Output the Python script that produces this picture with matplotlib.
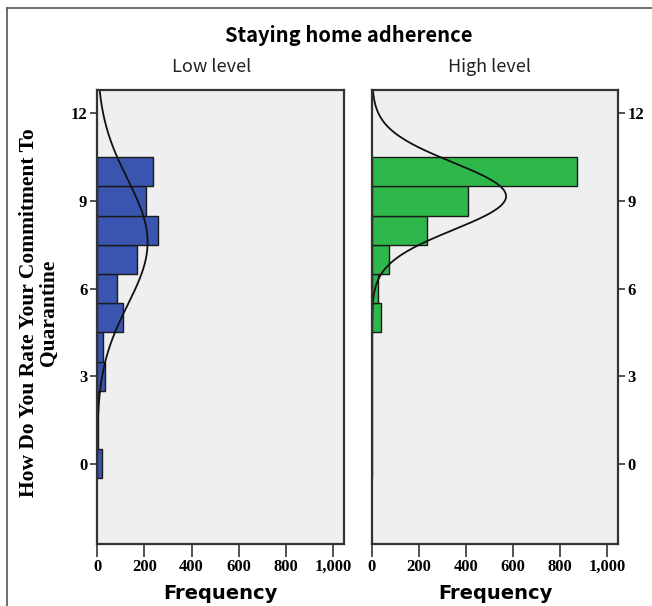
import matplotlib
matplotlib.use('Agg')
import matplotlib.pyplot as plt
import numpy as np
from matplotlib.lines import Line2D
from matplotlib.ticker import FuncFormatter
from matplotlib.font_manager import FontProperties

# Rating of commitment (bin centers) and frequencies per group
ratings = [0, 1, 2, 3, 4, 5, 6, 7, 8, 9, 10]
low_counts = [20, 3, 5, 34, 25, 110, 86, 171, 256, 206, 237]
high_counts = [0, 0, 0, 0, 0, 38, 25, 72, 233, 406, 870]

groups = ['Low level', 'High level']
colors = ['#3a55b0', '#2eb84b']
y_ticks = [0, 3, 6, 9, 12]
x_ticks = [0, 200, 400, 600, 800, 1000]

fig = plt.figure(figsize=(6.52, 6.06), dpi=100)
fig.patch.set_facecolor('white')

# outer frame lines (left + top)
fig.add_artist(Line2D([7/652, 7/652], [0, 1 - 8/606], transform=fig.transFigure,
                      color='#555555', lw=1.2))
fig.add_artist(Line2D([7/652, 1], [1 - 8/606, 1 - 8/606], transform=fig.transFigure,
                      color='#555555', lw=1.2))

positions = [[97/652, 1 - 544/606, 247/652, 454/606],
             [372/652, 1 - 544/606, 246/652, 454/606]]

tick_fp = FontProperties(family='Liberation Serif', weight='bold', size=12)
yy = np.linspace(-2.8, 12.8, 400)

for i, (name, counts, col) in enumerate(zip(groups, [low_counts, high_counts], colors)):
    ax = fig.add_axes(positions[i])
    ax.set_facecolor('#efefef')
    ax.barh(ratings, counts, height=1.0, color=col, edgecolor='#1a1a1a', linewidth=1.0)

    # normal curve fitted to the group's data
    r = np.array(ratings, dtype=float)
    c = np.array(counts, dtype=float)
    n = c.sum()
    mu = (r * c).sum() / n
    sd = np.sqrt((c * (r - mu) ** 2).sum() / n)
    curve = n / (sd * np.sqrt(2 * np.pi)) * np.exp(-(yy - mu) ** 2 / (2 * sd ** 2))
    ax.plot(curve, yy, color='#111111', lw=1.3)

    ax.set_xlim(0, 1045)
    ax.set_ylim(-2.75, 12.8)
    ax.set_xticks(x_ticks)
    ax.xaxis.set_major_formatter(FuncFormatter(lambda v, p: '{:,.0f}'.format(v)))
    ax.set_yticks(y_ticks)
    if i == 1:
        ax.yaxis.tick_right()
    for s in ax.spines.values():
        s.set_color('#333333')
        s.set_linewidth(1.6)
    ax.tick_params(axis='x', length=9, width=1.2, color='#333333', pad=2)
    ax.tick_params(axis='y', length=5, width=1.2, color='#333333', pad=2)
    for lab in ax.get_xticklabels() + ax.get_yticklabels():
        lab.set_fontproperties(tick_fp)
    ax.set_xlabel('Frequency', family='DejaVu Sans', weight='bold', size=14, labelpad=6)

fig.text(349/652, 1 - 35/606, 'Staying home adherence', ha='center', va='center',
         family='Noto Sans CJK JP', weight='bold', size=14.5)
fig.text(212/652, 1 - 67/606, 'Low level', ha='center', va='center',
         family='Noto Sans CJK JP', size=13, color='#222222')
fig.text(490/652, 1 - 67/606, 'High level', ha='center', va='center',
         family='Noto Sans CJK JP', size=13, color='#222222')
fig.text(39/652, 1 - 313/606, 'How Do You Rate Your Commitment To\nQuarantine',
         ha='center', va='center', rotation=90, family='Liberation Serif',
         weight='bold', size=15.5, linespacing=0.95)

plt.savefig('out.png', dpi=100)
